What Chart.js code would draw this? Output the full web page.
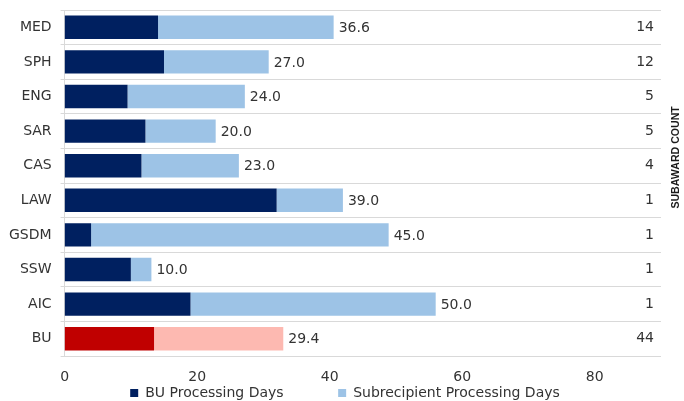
<!DOCTYPE html>
<html>
<head>
<meta charset="utf-8">
<script src="https://cdn.jsdelivr.net/npm/chart.js@4/dist/chart.umd.min.js"></script>
<style>
  html, body { margin: 0; padding: 0; background: #ffffff; }
  #wrap { width: 684px; height: 401px; }
</style>
</head>
<body>
<div id="wrap"><canvas id="c" width="684" height="401"></canvas></div>
<script>
const categories = ['MED', 'SPH', 'ENG', 'SAR', 'CAS', 'LAW', 'GSDM', 'SSW', 'AIC', 'BU'];
const buProcessingDays = [14.1, 15.0, 9.5, 12.2, 11.6, 32.0, 4.0, 10.0, 19.0, 13.5];
const subrecipientProcessingDays = [26.5, 15.8, 17.7, 10.6, 14.7, 10.0, 44.9, 3.1, 37.0, 19.5];
const totalLabels = ['36.6', '27.0', '24.0', '20.0', '23.0', '39.0', '45.0', '10.0', '50.0', '29.4'];
const subawardCounts = ['14', '12', '5', '5', '4', '1', '1', '1', '1', '44'];
const seriesNames = ['BU Processing Days', 'Subrecipient Processing Days'];
const rightAxisTitle = 'SUBAWARD COUNT';

const FONT = '"DejaVu Sans", Verdana, sans-serif';
const TEXT = '#333333';
const GRID = '#d9d9d9';
const totalIndex = categories.indexOf('BU');

const valueLabels = {
  id: 'valueLabels',
  beforeDraw(chart) {
    // let the x tick labels overlap the legend band as in the reference
    const xs = chart.scales.x;
    if (xs) xs._computeLabelArea = () => undefined;
  },
  afterDatasetsDraw(chart) {
    const meta = chart.getDatasetMeta(1);
    const ctx = chart.ctx;
    ctx.save();
    ctx.font = '14px ' + FONT;
    ctx.fillStyle = TEXT;
    ctx.textAlign = 'left';
    ctx.textBaseline = 'middle';
    meta.data.forEach((bar, i) => {
      ctx.fillText(totalLabels[i], bar.x + 5, bar.y + 1);
    });
    ctx.restore();
  }
};

const sideTitle = {
  id: 'sideTitle',
  afterDraw(chart) {
    const ctx = chart.ctx;
    const area = chart.chartArea;
    ctx.save();
    ctx.translate(chart.width - 7.5, area.top + (area.bottom - area.top) * 0.426);
    ctx.rotate(-Math.PI / 2);
    ctx.font = 'bold 10.6px "Liberation Sans", Arial, sans-serif';
    ctx.fillStyle = '#1a1a1a';
    ctx.textAlign = 'center';
    ctx.textBaseline = 'middle';
    ctx.fillText(rightAxisTitle, 0, 0);
    ctx.restore();
  }
};

new Chart(document.getElementById('c'), {
  type: 'bar',
  data: {
    labels: categories,
    datasets: [
      {
        label: seriesNames[0],
        data: buProcessingDays,
        backgroundColor: (c) => c.dataIndex === totalIndex ? '#c00000' : '#002060',
        borderWidth: 0,
        barPercentage: 0.675,
        categoryPercentage: 1
      },
      {
        label: seriesNames[1],
        data: subrecipientProcessingDays,
        backgroundColor: (c) => c.dataIndex === totalIndex ? '#fdb9b1' : '#9dc3e6',
        borderWidth: 0,
        barPercentage: 0.675,
        categoryPercentage: 1
      }
    ]
  },
  options: {
    indexAxis: 'y',
    responsive: false,
    animation: false,
    devicePixelRatio: 1,
    layout: { padding: { top: 10, left: 0, right: 9, bottom: -9 } },
    scales: {
      x: {
        stacked: true,
        min: 0,
        max: 90,
        grid: { display: false },
        border: { display: false },
        ticks: {
          stepSize: 20,
          padding: 5,
          color: TEXT,
          font: { family: FONT, size: 14 },
          callback: (v) => (v % 20 === 0 ? String(v) : '')
        },
        afterFit: (scale) => { scale.height = 20; }
      },
      y: {
        stacked: true,
        position: 'left',
        grid: { color: GRID, lineWidth: 1, offset: true, tickLength: 4 },
        border: { display: true, color: GRID },
        ticks: {
          padding: 9,
          color: TEXT,
          font: { family: FONT, size: 14 }
        },
        afterFit: (scale) => { scale.paddingTop = 0; scale.paddingBottom = 0; }
      },
      y2: {
        type: 'category',
        labels: subawardCounts,
        position: 'right',
        offset: true,
        display: true,
        grid: { display: false },
        border: { display: false },
        ticks: {
          mirror: true,
          padding: -7,
          color: TEXT,
          font: { family: FONT, size: 14 }
        },
        afterFit: (scale) => { scale.width = 14; scale.paddingTop = 0; scale.paddingBottom = 0; }
      }
    },
    plugins: {
      tooltip: { enabled: false },
      legend: {
        position: 'bottom',
        fullSize: false,
        labels: {
          boxWidth: 8,
          boxHeight: 8,
          padding: 10,
          color: TEXT,
          font: { family: FONT, size: 14 },
          generateLabels: (chart) => {
            const items = Chart.defaults.plugins.legend.labels.generateLabels(chart);
            items[0].text = items[0].text + '\u00a0'.repeat(10);
            items[1].text = items[1].text + '\u00a0'.repeat(8);
            return items;
          }
        }
      }
    }
  },
  plugins: [valueLabels, sideTitle]
});
</script>
</body>
</html>
